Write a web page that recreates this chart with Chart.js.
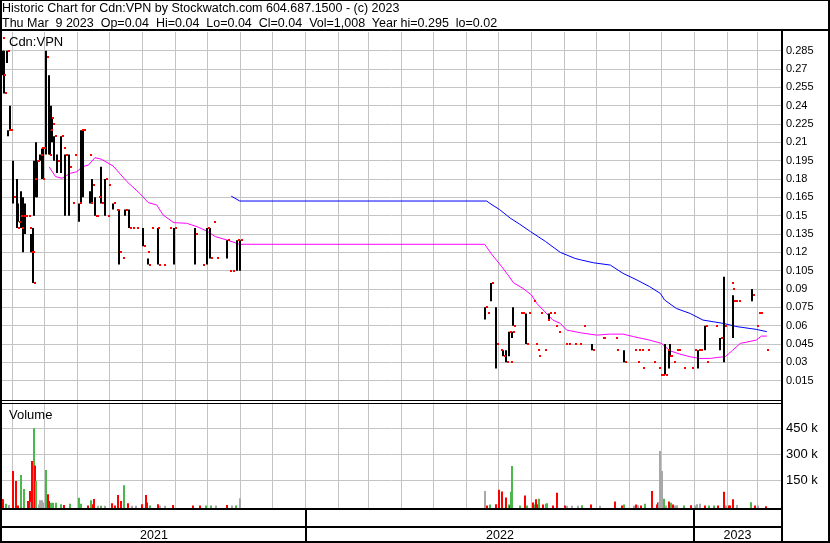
<!DOCTYPE html>
<html><head><meta charset="utf-8">
<script src="https://cdn.jsdelivr.net/npm/chart.js@4.4.0/dist/chart.umd.min.js"></script>
<style>
html,body{margin:0;padding:0;background:#fff;}
#wrap{position:relative;width:830px;height:543px;overflow:hidden;font-family:"Liberation Sans",Arial,sans-serif;color:#000;background:#fff;}
.t{position:absolute;white-space:pre;line-height:15px;}
.ln{position:absolute;background:#000;}
canvas{position:absolute;left:0;}
</style></head><body>
<div id="wrap">
<canvas id="pc" width="830" height="401" style="top:0;width:830px;height:401px"></canvas>
<canvas id="vc" width="830" height="142" style="top:401px;width:830px;height:142px"></canvas>
<div class="t" style="left:2px;top:1px;font-size:12.5px">Historic Chart for Cdn:VPN by Stockwatch.com 604.687.1500 - (c) 2023</div>
<div class="t" style="left:2px;top:16px;font-size:12.5px">Thu Mar  9 2023  Op=0.04  Hi=0.04  Lo=0.04  Cl=0.04  Vol=1,008  Year hi=0.295  lo=0.02</div>
<div class="t" style="left:9px;top:33.5px;font-size:13px">Cdn:VPN</div>
<div class="t" style="left:9px;top:407px;font-size:13px">Volume</div>
<div class="ln" style="left:0;top:0;width:830px;height:1px"></div>
<div class="ln" style="left:0;top:29px;width:830px;height:2px"></div>
<div class="ln" style="left:0;top:0;width:2px;height:543px"></div>
<div class="ln" style="left:828px;top:0;width:2px;height:543px"></div>
<div class="ln" style="left:781px;top:29px;width:2px;height:514px"></div>
<div class="ln" style="left:0;top:541px;width:830px;height:2px"></div>
<div class="ln" style="left:0;top:400px;width:781px;height:1px"></div>
<div class="ln" style="left:0;top:403px;width:781px;height:1px"></div>
<div class="ln" style="left:0;top:508px;width:781px;height:2px"></div>
<div class="ln" style="left:0;top:526px;width:781px;height:2px"></div>
</div>
<script>
// ---- data (x values = days since 2021-01-01) ----
const priceDay = [80,81,82,84,85,87, 90,94,95,97,98,99,101, 104,105,107,108,109,110, 112,113,115,116,117,118,
 121,124,125,126,127,129, 131,135,137,139,143,145, 147,152,154,156,161,162, 164,167,168,170,173,176,
 178,179,184,187,190,192, 195,199,202,206,212,216, 217,220,225,226,231,237, 241,261,268,272,275,278,
 281,291,293,296,300,303,
 533,535,539,544,547,550, 553,556,557,559,560,566, 568,572,574,578,580,582, 583,585,589,592,593,597,
 599,602,608,611,617,622, 625,634,643,644,655,656, 664,673,676,677,680,681, 685,691,696,698,700,702,
 704,706,707,710,713,715, 719,727,730,733,735,740, 741,749,754,758,764,765, 766,768,771,784,788,790,
 792,797];
const priceHigh = [.295,.285,.285,.285,.22,.24, .195,.18,.16,.15,.17,.165,.16, .15,.14,.135,.13,.14,.195,
 .21,.195,.2,.205,.205,.205, .285,.265,.22,.24,.23,.215, .2,.215,.205,.2,.2,.16, .2,.16,.22,.22,.2,.17,
 .18,.165,.15,.165,.19,.18, .15,.175,.16,.155,.155,.115, .155,.155,.14,.14,.14,.12, .115,.14,.14,.14,.11,.14,
 .14,.14,.11,.14,.14,.145, .115,.13,.105,.105,.13,.13,
 .075,.07,.095,.075,.04,.04, .04,.055,.03,.055,.075,.07, .07,.07,.07,.08,.045,.04, .035,.07,.04,.065,.07,.07,
 .06,.055,.045,.045,.045,.045, .06,.045,.05,.05,.05,.04, .04,.04,.03,.04,.04,.025, .04,.03,.025,.02,.02,.045,
 .04,.04,.045,.03,.04,.04, .025,.025,.04,.04,.04,.06, .03,.06,.05,.1,.095,.09, .085,.08,.08,.09,.06,.07,
 .07,.04];
const priceLow = [.295,.265,.25,.275,.215,.22, .16,.14,.145,.15,.14,.12,.135, .15,.14,.12,.12,.095,.15,
 .165,.165,.195,.205,.18,.18, .2,.2,.2,.22,.21,.195, .185,.185,.205,.15,.15,.16, .2,.145,.16,.165,.2,.16,
 .16,.15,.15,.165,.16,.15, .15,.175,.155,.155,.11,.115, .15,.14,.14,.14,.125,.12, .11,.14,.14,.11,.11,.14,
 .11,.11,.11,.11,.115,.145, .115,.115,.105,.105,.105,.105,
 .065,.07,.08,.025,.04,.035, .03,.035,.03,.05,.06,.07, .07,.045,.07,.08,.045,.04, .035,.07,.04,.065,.065,.07,
 .06,.055,.045,.045,.045,.045, .06,.04,.05,.05,.05,.04, .03,.04,.03,.04,.04,.025, .04,.03,.025,.02,.02,.02,
 .04,.025,.035,.03,.04,.04, .025,.025,.04,.025,.04,.04, .03,.06,.04,.03,.095,.09, .05,.08,.08,.08,.06,.07,
 .07,.04];
const priceClose = [.295,.265,.25,.285,.22,.22, .165,.14,.145,.15,.14,.15,.15, .15,.14,.12,.12,.095,.18,
 .195,.195,.2,.205,.18,.205, .28,.2,.22,.23,.225,.215, .195,.215,.205,.2,.19,.16, .2,.16,.22,.22,.2,.16,
 .175,.15,.15,.165,.16,.18, .15,.175,.16,.155,.12,.115, .155,.14,.14,.14,.125,.12, .11,.14,.14,.11,.11,.14,
 .14,.135,.11,.14,.115,.145, .115,.13,.105,.105,.13,.13,
 .075,.07,.095,.045,.04,.035, .03,.055,.03,.055,.06,.07, .07,.045,.07,.08,.045,.04, .035,.07,.04,.065,.07,.07,
 .06,.055,.045,.045,.045,.045, .06,.04,.05,.05,.05,.04, .03,.04,.03,.04,.04,.025, .04,.03,.025,.02,.02,.02,
 .04,.035,.035,.03,.04,.04, .025,.025,.04,.04,.04,.06, .03,.06,.05,.06,.095,.09, .08,.08,.08,.085,.06,.07,
 .07,.04];

const maShortDay = [124,130,136,144,150,155,161,167,173,184,197,209,217,225,231,241,253,263,272,280,291,303,
 533,540,544,549,555,560,569,577,582,588,597,604,610,623,638,651,663,673,688,699,707,716,726,735,745,751,759,766,773,788,793,798];
const maShortVal = [.190,.182,.1806,.1847,.186,.190,.1915,.1975,.1962,.1907,.1779,.1683,.1607,.1588,.1506,.1443,.1438,.141,.1375,.1329,.1301,.1266,
 .1266,.118,.1137,.1083,.1014,.0952,.0905,.0851,.0782,.0728,.0646,.0619,.0564,.0542,.0523,.0531,.0531,.051,.0482,.0455,.0395,.0368,.0346,.0332,.0332,.034,.0346,.04,.0455,.0482,.0515,.0515];
const maLongDay = [295,303,535,538,547,557,566,576,590,604,618,624,635,651,663,676,688,698,702,713,726,738,757,770,788,798];
const maLongVal = [.166,.162,.162,.160,.155,.148,.143,.137,.129,.120,.115,.1137,.1115,.1096,.1028,.0974,.0919,.0864,.081,.0741,.07,.0646,.0619,.0592,.057,.0551];

const volDay = [80,81,83,86,90,93,95,98,100,104,106,107,108,110,111,112,114,115,117,118,121,123,124,126,128,130,135,138,144,152,
 154,160,163,165,166,170,173,176,183,186,189,191,194,198,202,206,211,215,216,219,226,228,233,240,259,266,271,276,281,291,296,299,303,
 533,535,538,544,546,549,553,556,557,558,559,566,571,573,578,580,581,582,584,588,591,592,597,601,608,610,615,621,624,633,
 641,655,662,664,673,675,677,680,684,690,695,696,697,698,700,701,703,706,708,710,712,714,720,727,731,732,735,740,744,748,
 752,758,760,762,763,766,770,783,787,790,797];
const volValue = [42000,40000,15000,7000,204000,146000,5000,180000,100000,30000,88000,25000,262000,450000,235000,146000,10000,35000,35000,22000,
 210000,70000,30000,20000,20000,20000,12000,8000,15000,50000,15000,5000,35000,12000,42000,3000,3000,3000,18000,4000,
 65000,30000,122000,18000,3000,3000,12000,65000,22000,4000,12000,3000,3000,8000,4000,4000,4000,4000,4000,8000,4000,4000,46000,
 88000,4000,10000,12000,95000,86000,51000,10000,4000,84000,233000,4000,63000,4000,22000,10000,40000,12000,44000,10000,
 15000,18000,4000,78000,4000,3000,3000,3000,6000,10000,3000,28000,4000,10000,3000,10000,6000,4000,15000,88000,
 10000,22000,22000,319000,204000,44000,4000,28000,20000,10000,4000,6000,4000,6000,4000,12000,15000,4000,4000,4000,
 4000,84000,4000,4000,4000,40000,8000,24000,4000,4000,1008];
const volDir = ['d','d','u','n','d','d','d','u','u','d','d','n','d','u','d','u','n','n','n','n','u','d','d','u','u','u','u','d','u','u',
 'u','d','u','d','d','n','u','n','d','d','d','d','u','d','n','n','d','d','d','u','d','n','n','d','d','d','u','u','n','d','n','u','n',
 'n','d','u','d','d','d','d','u','d','u','u','u','d','u','d','u','d','d','u','d','u','u','d','d','d','n','n','n','u','d',
 'n','d','d','u','n','d','n','d','u','d','d','d','n','n','n','u','n','d','u','d','n','n','u','d','n','n','n','d','u','u',
 'd','d','n','d','d','d','n','u','d','n','d'];

const priceTicks = [0.015,0.03,0.045,0.06,0.075,0.09,0.105,0.12,0.135,0.15,0.165,0.18,0.195,0.21,0.225,0.24,0.255,0.27,0.285];
const volTicks = [150000,300000,450000];
const yearLabels = ['2021','2022','2023'];

// ---- helpers / styles ----
const DAY0 = Date.UTC(2021,0,1);
const dayOf = (y,m) => (Date.UTC(y,m,1) - DAY0) / 86400000;
const monthTicks = [];
for (let y = 2021, m = 3; y < 2023 || (y === 2023 && m <= 2);) { monthTicks.push(dayOf(y,m)); m++; if (m > 11) { m = 0; y++; } }
const yearStarts = [dayOf(2022,0), dayOf(2023,0)];
const FONT = "'Liberation Sans', Arial, sans-serif";
const gridColor = '#c4c4c4';
const dirColor = {d:'#ff0000', u:'#4cb84c', n:'#a8a8a8'};
const X_MIN = 79.7, X_MAX = 811.3, VOL_FLOOR = -11500;

const closeMark = document.createElement('canvas');
closeMark.width = 6; closeMark.height = 2;
const cmc = closeMark.getContext('2d'); cmc.fillStyle = '#ff0000'; cmc.fillRect(4,0,2,2);

// snap bar / marker elements to whole pixels so the thin marks stay crisp
const snap = {
  id:'snap',
  beforeDatasetsDraw(chart){
    chart.data.datasets.forEach((ds, i) => {
      const meta = chart.getDatasetMeta(i);
      const t = ds.type || chart.config.type;
      if (t === 'bar') meta.data.forEach(el => { el.x = Math.round(el.x); });
      else if (ds.showLine === false) meta.data.forEach(el => { el.x = Math.round(el.x); el.y = Math.round(el.y); });
    });
  }
};
const noPad = s => { s.paddingTop = 0; s.paddingBottom = 0; s.paddingLeft = 0; s.paddingRight = 0; };

const xScale = () => ({
  type:'linear', min:X_MIN, max:X_MAX, offset:false,
  afterBuildTicks: s => { s.ticks = monthTicks.map(v => ({value:v})); },
  ticks:{display:false},
  grid:{color:gridColor, lineWidth:1, drawTicks:false, offset:false},
  border:{display:false},
  afterFit: s => { s.height = 0; noPad(s); }
});
const common = {responsive:false, animation:false, events:[], plugins:{legend:{display:false}, tooltip:{enabled:false}}};

const bars = [], closes = [];
priceDay.forEach((d,i) => {
  if (priceHigh[i] > priceLow[i]) bars.push({x:d, y:[priceLow[i], priceHigh[i]]});
  closes.push({x:d, y:priceClose[i]});
});

new Chart(document.getElementById('pc'), {
  type:'bar',
  data:{datasets:[
    {type:'line', data:maShortDay.map((d,i)=>({x:d,y:maShortVal[i]})), borderColor:'#ff00ff', borderWidth:1, pointRadius:0, tension:0, order:3},
    {type:'line', data:maLongDay.map((d,i)=>({x:d,y:maLongVal[i]})), borderColor:'#0000ff', borderWidth:1, pointRadius:0, tension:0, order:3},
    {type:'bar', data:bars, backgroundColor:'#000', borderWidth:0, inflateAmount:0, barThickness:2, grouped:false, order:2},
    {type:'line', data:closes, showLine:false, pointStyle:closeMark, pointRadius:2, order:1}
  ]},
  options:Object.assign({}, common, {
    layout:{autoPadding:false, padding:{left:2, top:32, right:0, bottom:1}},
    scales:{
      x:xScale(),
      y:{position:'right', min:-0.0008, max:0.3003,
        afterBuildTicks: s => { s.ticks = priceTicks.map(v => ({value:v})); },
        ticks:{font:{family:FONT, size:11}, color:'#000', padding:5, callback: v => v.toFixed(3).replace(/0$/,'')},
        grid:{color:gridColor, drawTicks:false}, border:{display:false},
        afterFit: s => { s.width = 49; noPad(s); }}
    }
  }),
  plugins:[snap]
});

const dateRows = {
  id:'dateRows',
  afterDraw(chart){
    const {ctx, chartArea:a, scales:{x}} = chart;
    const top = a.bottom + 1.7, bottom = chart.height - 2;
    ctx.save();
    ctx.fillStyle = '#000';
    const edges = [a.left];
    yearStarts.forEach(d => { const px = Math.round(x.getPixelForValue(d)); edges.push(px); ctx.fillRect(px - 1, top, 2, bottom - top); });
    edges.push(a.right);
    ctx.font = '12.5px ' + FONT; ctx.textAlign = 'center'; ctx.textBaseline = 'alphabetic';
    yearLabels.forEach((t,i) => ctx.fillText(t, (edges[i] + edges[i+1]) / 2, chart.height - 3.7));
    ctx.restore();
  }
};

new Chart(document.getElementById('vc'), {
  type:'bar',
  data:{datasets:[{
    data:volDay.map((d,i)=>({x:d, y:[VOL_FLOOR, volValue[i]]})),
    backgroundColor:volDir.map(c => dirColor[c]), borderWidth:0, inflateAmount:0, barThickness:2, grouped:false
  }]},
  options:Object.assign({}, common, {
    layout:{autoPadding:false, padding:{left:2, top:1.3, right:0, bottom:34.7}},
    scales:{
      x:xScale(),
      y:{position:'right', min:VOL_FLOOR, max:600000,
        afterBuildTicks: s => { s.ticks = volTicks.map(v => ({value:v})); },
        ticks:{font:{family:FONT, size:13}, color:'#000', padding:5, callback: v => (v/1000) + ' k'},
        grid:{color:gridColor, drawTicks:false}, border:{display:false},
        afterFit: s => { s.width = 49; noPad(s); }}
    }
  }),
  plugins:[snap, dateRows]
});
</script>
</body></html>
